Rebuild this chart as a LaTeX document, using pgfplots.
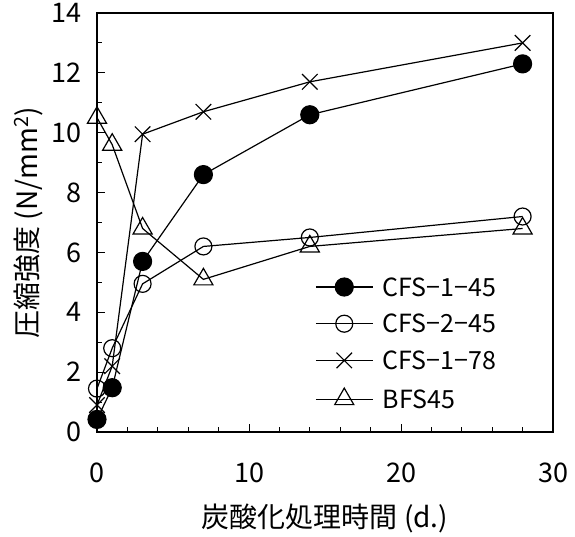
\documentclass[border=0pt]{standalone}
\usepackage{fontspec}
\setmainfont{Noto Sans CJK JP}
\usepackage{pgfplots}
\pgfplotsset{compat=1.18}

\begin{document}
\begin{tikzpicture}
\begin{axis}[
  scale only axis, width=456pt, height=419pt,
  at={(0,0)}, anchor=south west,
  xmin=0, xmax=30, ymin=0, ymax=14,
  xtick={0,10,20,30}, ytick={0,2,...,14},
  minor x tick num=4, minor y tick num=1,
  axis line style={line width=2.8pt},
  tick style={black, line width=0.9pt},
  major tick length=8pt, minor tick length=5pt,
  tick align=inside, xtick pos=bottom, ytick pos=left,
  /pgf/number format/assume math mode=true,
  tick label style={font=\fontsize{27}{30}\selectfont},
  yticklabel style={xshift=-12pt},
  xticklabel style={yshift=-27pt},
  xlabel={炭酸化処理時間 (d.)}, ylabel={圧縮強度 (N/mm\textsuperscript{2})},
  label style={font=\fontsize{28}{32}\selectfont},
  xlabel style={at={(axis description cs:0.5,-0.207)}, anchor=center},
  ylabel style={at={(axis description cs:-0.15,0.5)}, anchor=center},
  every axis plot/.append style={black, line width=1.2pt},
  legend style={at={(0.478,0.368)}, anchor=north west, draw=none, fill=none,
    font=\fontsize{25}{28}\selectfont, inner sep=0pt, row sep=0pt,
    nodes={inner sep=0pt, text height=18pt, text depth=18.7pt, anchor=base west}},
  legend cell align=left,
  legend image code/.code={
    \path[draw=none, fill=none, mark=none] (0pt,9pt)--(67pt,9pt);
    \draw[mark=none] (0pt,9pt)--(57pt,9pt);
    \draw[only marks] plot coordinates {(28.5pt,9pt)};},
  clip=false,
]
\addplot[mark=*, mark size=9pt, mark options={fill=black}] coordinates {(0,0.42)(1,1.48)(3,5.7)(7,8.6)(14,10.6)(28,12.3)};
\addplot[mark=o, mark size=8.5pt, mark options={fill=white}] coordinates {(0,1.45)(1,2.8)(3,4.95)(7,6.2)(14,6.5)(28,7.2)};
\addplot[mark=x, mark size=11pt] coordinates {(0,0.9)(1,2.2)(3,9.95)(7,10.7)(14,11.7)(28,13.0)};
\addplot[mark=triangle, mark size=11pt, mark options={fill=white}] coordinates {(0,10.5)(1,9.6)(3,6.8)(7,5.1)(14,6.2)(28,6.8)};
\legend{CFS−1−45,CFS−2−45,CFS−1−78,BFS45}
\end{axis}
\path[use as bounding box] (-97pt,-96pt) rectangle (478pt,432pt);
\end{tikzpicture}
\end{document}
